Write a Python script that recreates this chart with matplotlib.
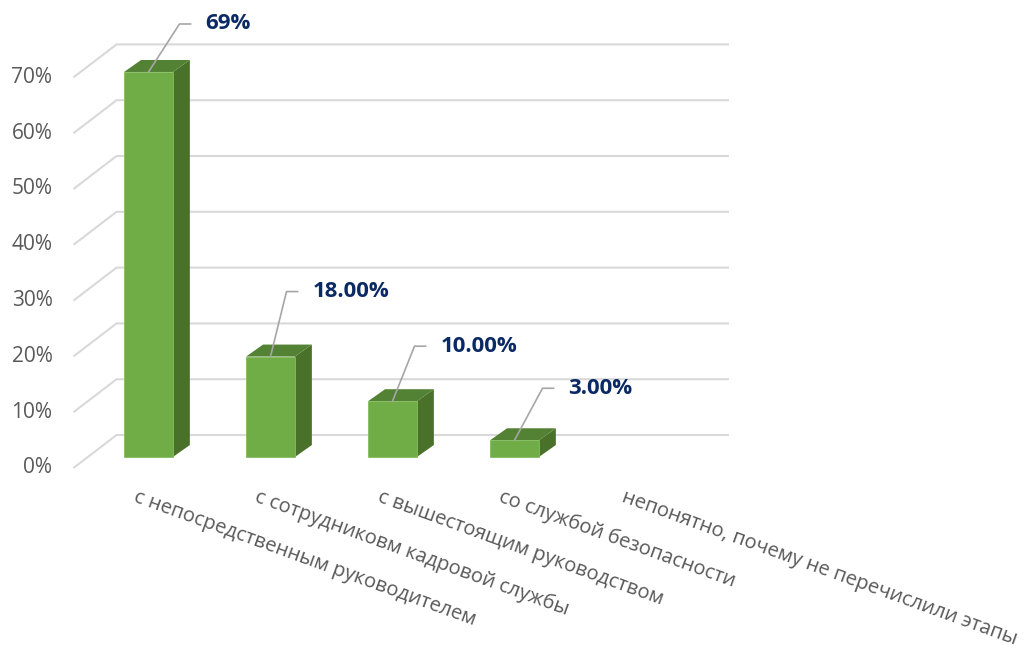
import matplotlib
matplotlib.use('Agg')
import matplotlib.pyplot as plt
from matplotlib.patches import Polygon
from matplotlib.lines import Line2D

plt.rcParams['font.family'] = ['Open Sans', 'DejaVu Sans']

categories = [
    'с непосредственным руководителем',
    'с сотрудниковм кадровой службы',
    'с вышестоящим руководством',
    'со службой безопасности',
    'непонятно, почему не перечислили этапы',
]
values = [69, 18, 10, 3, 0]
value_labels = ['69%', '18.00%', '10.00%', '3.00%', '']
yticks = [0, 10, 20, 30, 40, 50, 60, 70]

# leader line elbows for the data labels (pixels from bar top)
lead_dx = [31, 16, 22, 28, 0]
lead_dy = [48, 65, 55, 52, 0]

front = '#70ad47'
side = '#4a7129'
top = '#548235'
grid = '#d9d9d9'
navy = '#0b2a64'
grey = '#595959'

fig = plt.figure(figsize=(10.35, 6.51), dpi=100)
ax = fig.add_axes([87.5 / 1035, 194 / 651, 610 / 1035, 390.6 / 651])
ax.set_xlim(-0.5, 4.5)
ax.set_ylim(0, 70)
ax.axis('off')

# 3d depth in data units
fdx, fdy = -0.115, -1.97   # front edge of floor
bdx, bdy = 0.238, 3.94     # back wall
ddx, ddy = 0.139, 2.15     # bar depth
w = 0.40

# gridlines: diagonal on the side wall, then flat on the back wall
for v in yticks:
    ax.plot([-0.5 + fdx, -0.5 + bdx, 4.52 + bdx], [v + fdy, v + bdy, v + bdy],
            color=grid, lw=1.5, clip_on=False, zorder=1, solid_capstyle='butt')
    ax.annotate(f'{v}%', (-0.5 + fdx, v + fdy), xytext=(-21, 0),
                textcoords='offset pixels', ha='right', va='center',
                fontsize=15, color=grey, annotation_clip=False)

shown = [i for i, v in enumerate(values) if v > 0]
for i in shown:
    v = values[i]
    xl, xr = i - w / 2, i + w / 2
    ax.add_patch(Polygon([(xr, 0), (xr + ddx, ddy), (xr + ddx, v + ddy), (xr, v)],
                         closed=True, fc=side, ec='none', zorder=3, clip_on=False))
    ax.add_patch(Polygon([(xl, v), (xl + ddx, v + ddy), (xr + ddx, v + ddy), (xr, v)],
                         closed=True, fc=top, ec='none', zorder=3, clip_on=False))
ax.bar(shown, [values[i] for i in shown], width=w, color=front, edgecolor='#84bd5f',
       linewidth=0.6, zorder=4, clip_on=False)

# data labels with leader lines
for i, (v, lab) in enumerate(zip(values, value_labels)):
    if not lab:
        continue
    ex, ey = lead_dx[i], lead_dy[i]
    px, py = ax.transData.transform((i, v))
    fig.add_artist(Line2D([px, px + ex, px + ex + 11], [py, py + ey, py + ey],
                          color='#a6a6a6', lw=1.2, transform=None, zorder=5))
    ax.annotate(lab, (i, v), xytext=(ex + 26, ey), textcoords='offset pixels',
                ha='left', va='center', fontsize=16, fontweight='bold', color=navy,
                annotation_clip=False)

# category labels
for i, c in enumerate(categories):
    ax.annotate(c, (i, 0), xytext=(-11, -30), textcoords='offset pixels',
                ha='left', va='top', rotation=-20, rotation_mode='anchor',
                fontsize=14.5, color=grey, annotation_clip=False)

fig.savefig('out.png', dpi=100)
